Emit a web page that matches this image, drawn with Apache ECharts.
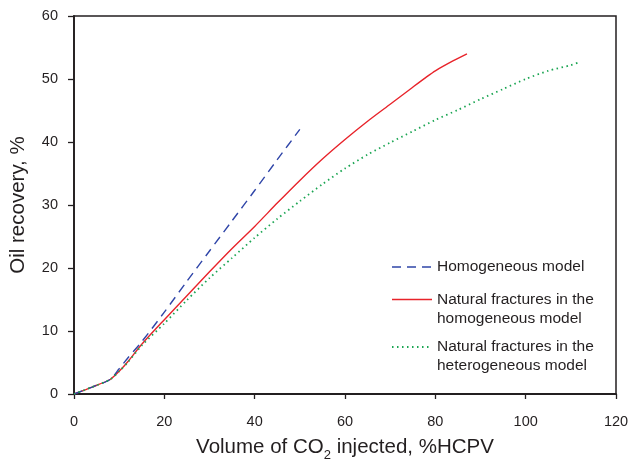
<!DOCTYPE html>
<html>
<head>
<meta charset="utf-8">
<script src="https://cdn.jsdelivr.net/npm/echarts@6/dist/echarts.min.js"></script>
<style>
  html, body { margin: 0; padding: 0; background: #fff; }
  #chart { width: 628px; height: 459px; }
</style>
</head>
<body>
<div id="chart"></div>
<script>
// Oil recovery (%) vs. volume of CO2 injected (%HCPV) for three reservoir models
const seriesNames = [
  'Homogeneous model',
  'Natural fractures in the\nhomogeneous model',
  'Natural fractures in the\nheterogeneous model'
];

const homogeneousX = [0, 4, 8, 10, 12, 15, 20, 25, 30, 35, 40, 45, 50];
const homogeneousY = [0, 1.1, 2.3, 4.0, 5.8, 8.3, 13.0, 17.9, 22.7, 27.5, 32.3, 37.2, 42.0];

const fracHomoX = [0, 4, 8, 10, 12, 15, 20, 25, 30, 35, 40, 45, 50, 55, 60, 65, 70, 75, 78, 80, 84, 87];
const fracHomoY = [0, 1.1, 2.3, 3.6, 5.2, 7.9, 11.8, 15.6, 19.4, 23.1, 26.6, 30.3, 33.9, 37.3, 40.4, 43.3, 46.0, 48.7, 50.3, 51.3, 52.9, 54.0];

const fracHeteroX = [0, 4, 8, 10, 12, 15, 20, 25, 30, 35, 40, 45, 50, 55, 60, 65, 70, 75, 80, 85, 90, 95, 100, 105, 110, 112];
const fracHeteroY = [0, 1.1, 2.3, 3.6, 5.1, 7.7, 11.2, 14.9, 18.4, 21.6, 24.8, 27.8, 30.6, 33.3, 35.8, 38.0, 39.9, 41.7, 43.5, 45.1, 46.8, 48.4, 50.0, 51.3, 52.2, 52.7];

const xTicks = { min: 0, max: 120, interval: 20 };
const yTicks = { min: 0, max: 60, interval: 10 };

const colors = ['#2f45a8', '#e8232a', '#1aa552'];
const font = 'Arial, "Liberation Sans", Helvetica, sans-serif';
const axisColor = '#231f20';

function pairs(xs, ys) { return xs.map((x, i) => [x, ys[i]]); }

const chart = echarts.init(document.getElementById('chart'), null, { renderer: 'canvas' });

// Legend drawn as graphics so that each sample line sits beside the first text line
const legendRows = [
  { y: 267, dash: [9, 6] },
  { y: 299.5, dash: null },
  { y: 347, dash: [1.5, 3.5] }
];
const legendGraphics = [];
legendRows.forEach((row, i) => {
  legendGraphics.push({
    type: 'line',
    shape: { x1: 392, y1: row.y, x2: 432, y2: row.y },
    style: { stroke: colors[i], lineWidth: i === 2 ? 1.8 : 1.3, lineDash: row.dash || null }
  });
  legendGraphics.push({
    type: 'text',
    x: 437,
    y: row.y - 9.5,
    style: {
      text: seriesNames[i],
      fontFamily: font,
      fontSize: 15.5,
      lineHeight: 19,
      fill: '#231f20',
      verticalAlign: 'top',
      align: 'left'
    }
  });
});

chart.setOption({
  animation: false,
  backgroundColor: '#ffffff',
  grid: {
    left: 74, right: 12, top: 16, bottom: 65,
    outerBoundsMode: 'none',
    containLabel: false,
    show: true, borderColor: axisColor, borderWidth: 1.5, backgroundColor: 'transparent'
  },
  xAxis: {
    type: 'value',
    min: xTicks.min, max: xTicks.max, interval: xTicks.interval,
    name: '{a|Volume of CO}{s|2}{a| injected, %HCPV}',
    nameLocation: 'middle',
    nameGap: 44,
    nameTextStyle: {
      rich: {
        a: { fontFamily: font, fontSize: 20.5, color: '#231f20', verticalAlign: 'bottom', lineHeight: 20 },
        s: { fontFamily: font, fontSize: 13, color: '#231f20', verticalAlign: 'bottom', lineHeight: 20, padding: [0, 0, -4, 0] }
      }
    },
    axisLine: { show: true, onZero: false, lineStyle: { color: axisColor, width: 1.8 } },
    axisTick: { show: true, inside: false, length: 5, lineStyle: { color: axisColor, width: 1.3 } },
    axisLabel: { fontFamily: font, fontSize: 14.5, color: '#231f20', margin: 20 },
    splitLine: { show: false }
  },
  yAxis: {
    type: 'value',
    min: yTicks.min, max: yTicks.max, interval: yTicks.interval,
    name: 'Oil recovery, %',
    nameLocation: 'middle',
    nameGap: 45,
    nameTextStyle: { fontFamily: font, fontSize: 20.5, color: '#231f20' },
    axisLine: { show: true, onZero: false, lineStyle: { color: axisColor, width: 1.8 } },
    axisTick: { show: true, inside: false, length: 6, lineStyle: { color: axisColor, width: 1.3 } },
    axisLabel: { fontFamily: font, fontSize: 14.5, color: '#231f20', margin: 16 },
    splitLine: { show: false }
  },
  graphic: legendGraphics,
  series: [
    {
      name: seriesNames[0], type: 'line', showSymbol: false, smooth: 0.25,
      data: pairs(homogeneousX, homogeneousY),
      lineStyle: { color: colors[0], width: 1.4, type: [9, 6] },
      z: 3
    },
    {
      name: seriesNames[1], type: 'line', showSymbol: false, smooth: 0.25,
      data: pairs(fracHomoX, fracHomoY),
      lineStyle: { color: colors[1], width: 1.4, type: 'solid' },
      z: 2
    },
    {
      name: seriesNames[2], type: 'line', showSymbol: false, smooth: 0.25,
      data: pairs(fracHeteroX, fracHeteroY),
      lineStyle: { color: colors[2], width: 1.8, type: [1.5, 3.5] },
      z: 4
    }
  ]
});
</script>
</body>
</html>
